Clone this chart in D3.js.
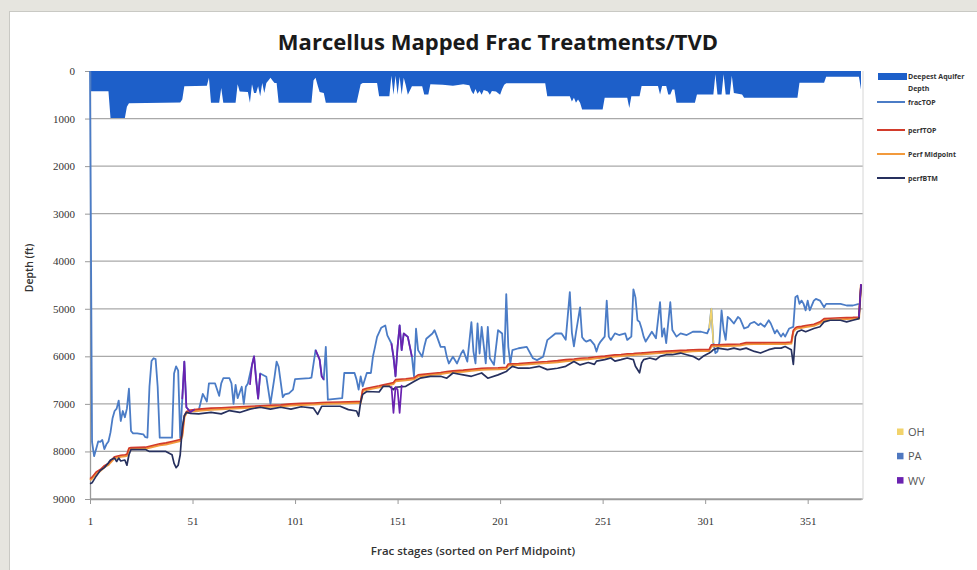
<!DOCTYPE html>
<html><head><meta charset="utf-8">
<script src="https://cdn.jsdelivr.net/npm/d3@7"></script>
<style>body{margin:0;background:#e6e5df;} svg{display:block}</style>
</head><body><svg id="c" width="977" height="570"></svg>
<script>
// ---------- DATA ----------
const chartTitle = "Marcellus Mapped Frac Treatments/TVD";
const xTitle = "Frac stages (sorted on Perf Midpoint)";
const yTitle = "Depth (ft)";
const xTicks = [1, 51, 101, 151, 201, 251, 301, 351];
const yTicks = [0, 1000, 2000, 3000, 4000, 5000, 6000, 7000, 8000, 9000];
const seriesNames = ["Deepest Aquifer Depth", "fracTOP", "perfTOP", "Perf Midpoint", "perfBTM"];
const stateNames = ["OH", "PA", "WV"];

const aquiferStages = [1,10,11,18,19,20,45,46,47,58,59,60,64,65,66,72,73,74,78,79,80,81,82,83,84,85,86,87,88,89,90,91,92,93,109,110,111,112,113,115,116,131,133,134,141,142,147,148,149,150,151,152,153,154,155,156,158,163,164,166,167,173,178,183,186,187,188,189,190,191,192,193,195,196,197,199,201,202,203,204,223,224,235,236,237,238,239,240,241,251,252,263,264,265,269,270,278,279,280,282,283,284,285,286,287,296,297,305,306,307,309,310,311,313,314,315,319,320,346,347,359,360,376,377];
const aquiferDepth = [424,424,990,990,750,680,660,600,320,310,140,670,670,360,670,670,280,430,440,670,280,460,460,320,530,250,460,250,200,140,200,250,250,670,670,200,140,300,440,460,670,670,280,250,250,530,530,100,500,100,500,120,500,140,300,500,320,320,494,494,280,290,310,280,300,420,490,380,480,420,500,400,430,500,420,430,500,380,290,260,260,530,530,640,560,670,600,670,810,810,565,565,780,530,530,317,317,494,317,317,494,494,390,390,670,670,494,494,70,494,494,70,494,494,100,460,494,565,565,247,247,120,120,390];

const fracStages = [1,2,3,4,5,6,7,8,9,10,11,12,13,14,15,16,17,18,19,20,21,22,24,27,28,29,30,31,32,33,34,35,41,42,43,44,45,46,47,48,50,52,54,56,58,59,62,64,65,66,69,70,71,72,73,75,76,77,78,80,81,83,84,87,89,91,92,93,95,96,98,100,101,108,109,111,113,114,115,116,117,124,125,130,131,132,133,134,136,138,139,140,141,143,145,146,148,149,150,151,152,153,154,156,158,159,160,161,163,164,165,168,169,170,172,174,175,176,178,180,182,183,185,187,188,189,190,191,192,194,195,196,198,200,202,203,204,205,206,207,210,214,217,219,222,224,228,231,233,235,236,237,238,240,241,242,243,245,247,248,249,250,252,253,254,255,257,259,262,263,265,266,267,268,269,270,271,272,274,275,277,279,280,281,282,284,285,287,289,292,295,299,302,303,304,305,306,307,308,309,310,311,312,313,315,317,318,320,322,323,325,327,328,330,332,333,335,336,338,339,340,342,344,345,346,347,348,349,350,351,352,354,355,357,359,360,364,367,370,373,376];
const fracTop = [0,7800,8100,7950,7790,7800,7760,7950,7850,7790,7600,7300,7150,7100,6930,7360,7150,7280,7100,6680,7570,7620,7620,7640,7700,7710,6640,6100,6040,6060,6640,7710,7710,6360,6210,6300,7710,6900,6110,7070,7170,7120,7140,6790,6950,6570,6570,6830,6570,6460,6460,6570,7000,6600,6880,6640,7000,6640,6570,6180,6000,6890,6360,6430,7000,6430,6110,6220,6860,6800,6780,6700,6480,6460,6450,5870,6070,6420,6490,5800,6910,6880,6350,6350,6490,6700,6420,6630,6350,6350,6000,5800,5590,5400,5350,5560,5730,6010,6420,5800,5350,5870,5520,5590,6010,6420,5420,5870,6010,5800,5630,5520,5450,5560,5800,5800,6010,6150,6010,6150,5940,5870,6110,5280,5900,6150,5310,5940,5380,6150,5380,6040,6180,5450,5520,6150,4690,5800,6150,5870,5830,5800,6040,6080,6010,5660,5520,5520,5650,4650,5500,5790,5500,4970,5600,5655,5690,5655,5760,5900,5760,5690,5586,4830,5586,5655,5517,5552,5517,5655,5586,4590,4760,5241,5276,5414,5586,5690,5552,5483,5621,4862,5586,5414,5724,4862,5448,5586,5517,5552,5483,5483,5517,5414,5000,5724,5931,5897,5690,5034,5448,5655,5172,5207,5310,5172,5207,5414,5379,5310,5276,5345,5310,5379,5241,5310,5517,5448,5586,5517,5586,5414,5379,4759,4724,4897,4828,4897,5034,4828,5034,4828,4793,4828,4966,4897,4897,4897,4931,4931,4897];

const perfStages = [1,2,4,6,8,10,11,13,14,15,16,18,19,20,21,28,30,35,38,41,42,43,44,45,46,47,48,50,54,60,65,69,74,79,84,89,94,99,104,110,112,114,117,123,127,131,132,133,134,136,142,144,147,149,150,155,159,161,162,167,172,175,178,183,187,192,195,200,204,205,207,210,215,220,224,229,233,237,240,244,247,248,252,255,257,260,263,266,267,269,270,271,274,277,279,282,285,289,292,295,298,300,303,304,305,307,312,315,318,321,325,328,332,335,338,340,343,344,345,346,348,350,354,357,359,362,367,370,373,376,377];
const perfTop = [8570,8540,8430,8380,8300,8250,8200,8110,8100,8090,8080,8070,8060,7930,7920,7910,7890,7840,7820,7790,7780,7770,7760,7750,7640,7250,7160,7130,7110,7090,7080,7070,7060,7050,7040,7030,7020,7000,6990,6980,6975,6970,6965,6960,6955,6950,6950,6945,6700,6670,6620,6600,6570,6550,6490,6470,6450,6390,6385,6360,6340,6320,6305,6290,6270,6250,6245,6240,6230,6160,6155,6150,6135,6120,6110,6090,6070,6055,6040,6030,6015,6010,5995,5980,5970,5960,5945,5940,5935,5930,5928,5925,5915,5905,5900,5890,5885,5875,5870,5860,5858,5856,5855,5760,5758,5755,5748,5745,5740,5712,5711,5711,5710,5710,5710,5710,5700,5450,5400,5380,5370,5350,5325,5275,5207,5200,5190,5185,5180,5172,4480];
const perfMid = [8600,8570,8460,8410,8330,8280,8230,8140,8130,8120,8110,8100,8090,7960,7950,7940,7920,7870,7850,7820,7810,7800,7790,7780,7670,7280,7190,7160,7140,7120,7110,7100,7090,7080,7070,7060,7050,7030,7020,7010,7005,7000,6995,6990,6985,6980,6980,6975,6730,6700,6650,6630,6600,6580,6520,6500,6480,6420,6415,6390,6370,6350,6335,6320,6300,6280,6275,6270,6260,6190,6185,6180,6165,6150,6140,6120,6100,6085,6070,6060,6045,6040,6025,6010,6000,5990,5975,5970,5965,5960,5958,5955,5945,5935,5930,5920,5915,5905,5900,5890,5888,5886,5885,5790,5788,5785,5778,5775,5770,5742,5741,5741,5740,5740,5740,5740,5730,5480,5430,5410,5400,5380,5355,5305,5237,5230,5220,5215,5210,5202,4500];
const perfBtm = [8680,8660,8520,8400,8340,8240,8180,8140,8210,8140,8200,8180,8290,8070,7960,7960,8000,8000,8000,8070,8250,8340,8290,8070,7500,7250,7180,7200,7210,7180,7210,7140,7180,7110,7070,7110,7070,7110,7060,7090,7220,7050,7050,7050,7120,7150,7260,6960,6800,6740,6750,6630,6630,6700,6650,6630,6530,6480,6460,6420,6420,6460,6350,6390,6420,6350,6460,6390,6320,6280,6210,6250,6250,6210,6280,6250,6210,6110,6180,6130,6170,6100,6070,6035,6100,6070,6035,6070,6210,6345,6140,6070,6035,6070,6000,5966,5966,5931,5966,6000,6070,6000,5931,5900,5860,5828,5860,5828,5860,5828,5897,5931,5860,5828,5828,5793,5860,6170,5586,5483,5448,5483,5414,5379,5276,5241,5241,5276,5241,5207,4500];

// WV-coloured stretches (null = gap)
const wvStages = [46,47,48,50,52, null, 79,80,81,82,83,84, null, 111,113,114,115, null, 148,149,150,151,152,153,154,156,158, null, 148,149,150,151,152,153, null, 376,377];
const wvDepth  = [6900,6110,7070,7170,7120, null, 6600,6180,6000,6500,6890,6360, null, 5870,6070,6420,6490, null, 5730,6010,6420,5800,5350,5870,5520,5590,6010, null, 6630,7190,6650,6700,7190,6600, null, 5172,4480];
// OH-coloured stretch
const ohStages = [303,304,305];
const ohDepth  = [5414,5000,5724];

// ---------- DRAW ----------
const svg = d3.select("#c");
const colors = {aq:"#1d5fc9", frac:"#4b7cc6", top:"#d23b2b", mid:"#f29a3c", btm:"#26305e", oh:"#f2d36b", pa:"#4f78c0", wv:"#6a22b0"};

svg.append("rect").attr("x",9.5).attr("y",11.5).attr("width",990).attr("height",600)
  .attr("fill","#ffffff").attr("stroke","#c9c9c4");

const x = d3.scaleLinear().domain([1, 377]).range([90, 861]);
const y = d3.scaleLinear().domain([0, 9000]).range([71, 499]);

// grid
svg.append("g").selectAll("line").data(yTicks.slice(1)).join("line")
  .attr("x1", 90).attr("x2", 863).attr("y1", d=>y(d)).attr("y2", d=>y(d))
  .attr("stroke","#a9a9a9").attr("stroke-width",1.3);
// plot right border
svg.append("line").attr("x1",863).attr("x2",863).attr("y1",71).attr("y2",499).attr("stroke","#d6d6d6");

// aquifer area
const aqData = aquiferStages.map((s,i)=>({s, v:aquiferDepth[i]}));
svg.append("path").datum(aqData)
  .attr("d", d3.area().x(d=>x(d.s)).y0(y(0)).y1(d=>y(d.v)))
  .attr("fill", colors.aq);

// axes
const xAxis = svg.append("g").attr("transform",`translate(0,${y(9000)})`)
  .call(d3.axisBottom(x).tickValues(xTicks).tickSize(5).tickPadding(13).tickSizeOuter(0));
const yAxis = svg.append("g").attr("transform",`translate(${x(1)},0)`)
  .call(d3.axisLeft(y).tickValues(yTicks).tickFormat(d3.format("d")).tickSize(5).tickPadding(10).tickSizeOuter(0));
[xAxis, yAxis].forEach(g=>{
  g.select(".domain").attr("stroke","#9a9a9a").attr("stroke-width",1.3);
  g.selectAll(".tick line").attr("stroke","#9a9a9a");
  g.selectAll("text").attr("font-family","'Liberation Serif', 'DejaVu Serif', serif").attr("font-size",11).attr("fill","#333");
});

const line = d3.line().defined(d=>d.v!=null).x(d=>x(d.s)).y(d=>y(d.v));
function draw(stages, vals, color, w){
  const data = stages.map((s,i)=>({s, v: s==null?null:vals[i]}));
  svg.append("path").datum(data).attr("d", line).attr("fill","none")
    .attr("stroke", color).attr("stroke-width", w).attr("stroke-linejoin","round");
}
draw(fracStages, fracTop, colors.frac, 1.8);
draw(perfStages, perfMid, colors.mid, 2.2);
draw(perfStages, perfTop, colors.top, 1.6);
draw(perfStages, perfBtm, colors.btm, 1.7);
draw(wvStages, wvDepth, colors.wv, 1.7);
draw(ohStages, ohDepth, colors.oh, 1.6);

// titles
svg.append("text").attr("x",498).attr("y",50).attr("text-anchor","middle")
  .attr("font-family","'Open Sans', sans-serif").attr("font-weight","bold").attr("font-size",22)
  .attr("fill","#1a1a1a").text(chartTitle);
svg.append("text").attr("x",473).attr("y",555).attr("text-anchor","middle")
  .attr("font-family","'Open Sans', sans-serif").attr("font-weight","600").attr("font-size",11.5)
  .attr("fill","#333").text(xTitle);
svg.append("text").attr("transform","translate(33,268) rotate(-90)").attr("text-anchor","middle")
  .attr("font-family","'Open Sans', sans-serif").attr("font-weight","600").attr("font-size",10.5)
  .attr("fill","#333").text(yTitle);

// series legend
const lg = svg.append("g").attr("font-family","'Open Sans', sans-serif").attr("font-weight","bold").attr("font-size",7).attr("fill","#333");
lg.append("rect").attr("x",878).attr("y",73).attr("width",29).attr("height",7).attr("fill",colors.aq);
lg.append("text").attr("x",908).attr("y",79).text("Deepest Aquifer");
lg.append("text").attr("x",908).attr("y",91).text("Depth");
const legLines = [{n:seriesNames[1], c:colors.frac, yy:102},{n:seriesNames[2], c:colors.top, yy:130},{n:seriesNames[3], c:colors.mid, yy:154},{n:seriesNames[4], c:colors.btm, yy:178}];
legLines.forEach(d=>{
  lg.append("line").attr("x1",877).attr("x2",905).attr("y1",d.yy).attr("y2",d.yy).attr("stroke",d.c).attr("stroke-width",2);
  lg.append("text").attr("x",908).attr("y",d.yy+2.5).text(d.n);
});

// state legend
const sg = svg.append("g").attr("font-family","'Open Sans', sans-serif").attr("font-size",11).attr("fill","#555");
const stateColors = [colors.oh, colors.pa, colors.wv];
stateNames.forEach((n,i)=>{
  const yy = 432 + i*24.3;
  sg.append("rect").attr("x",897).attr("y",yy-3.5).attr("width",6.5).attr("height",6.5).attr("fill",stateColors[i]);
  sg.append("text").attr("x",908).attr("y",yy+4).text(n);
});
</script></body></html>
